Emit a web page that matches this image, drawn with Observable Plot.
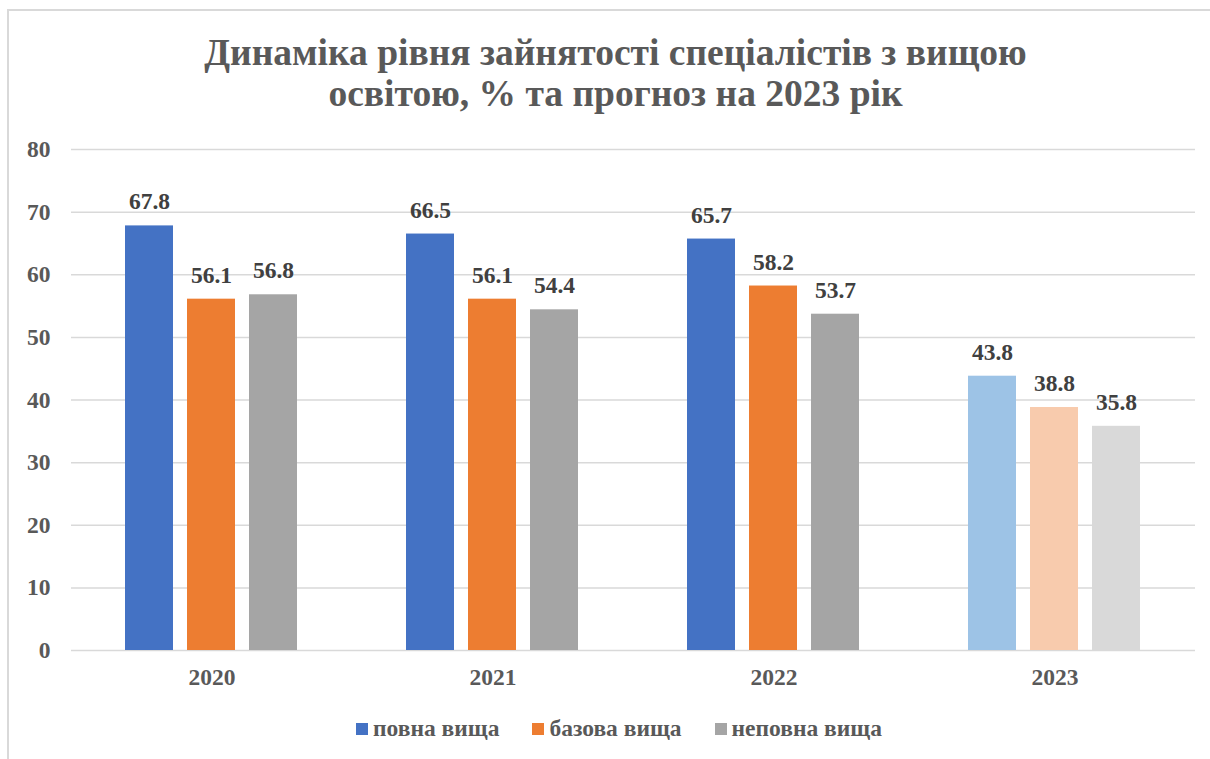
<!DOCTYPE html>
<html>
<head>
<meta charset="utf-8">
<script src="https://cdn.jsdelivr.net/npm/d3@7"></script>
<script src="https://cdn.jsdelivr.net/npm/@observablehq/plot@0.6"></script>
</head>
<body style="margin:0;padding:0;background:#fff;width:1210px;height:759px;position:relative;overflow:hidden;font-family:'Liberation Serif';">
<div style="position:absolute;left:7px;top:9px;width:1220px;height:770px;border-left:2px solid #d9d9d9;border-top:2px solid #d9d9d9;"></div>
<div id="title" style="position:absolute;left:0;width:1231px;top:32px;text-align:center;font-family:'Liberation Serif';font-size:37.5px;font-weight:bold;color:#595959;line-height:41px;">Динаміка рівня зайнятості спеціалістів з вищою<br>освітою, % та прогноз на 2023 рік</div>
<div id="chart" style="position:absolute;left:0;top:130px;"></div>
<div id="legend" style="position:absolute;left:0;width:1238px;top:715px;display:flex;justify-content:center;font-family:'Liberation Serif';font-size:23.5px;font-weight:bold;color:#595959;"></div>
<script>
const years = ["2020", "2021", "2022", "2023"];
const seriesNames = ["повна вища", "базова вища", "неповна вища"];
const fullHigher = [67.8, 66.5, 65.7, 43.8];
const basicHigher = [56.1, 56.1, 58.2, 38.8];
const incompleteHigher = [56.8, 54.4, 53.7, 35.8];
const forecastYear = "2023";
const yTicks = [0, 10, 20, 30, 40, 50, 60, 70, 80];

const seriesValues = [fullHigher, basicHigher, incompleteHigher];
const baseColors = ["#4472C4", "#ED7D31", "#A5A5A5"];
const lightColors = ["#9DC3E6", "#F8CBAD", "#D9D9D9"];

const data = years.flatMap((year, i) =>
  seriesNames.map((s, j) => ({
    year, series: s, value: seriesValues[j][i],
    key: s + (year === forecastYear ? " (прогноз)" : "")
  }))
);
const colorDomain = [...seriesNames, ...seriesNames.map(s => s + " (прогноз)")];
const colorRange = [...baseColors, ...lightColors];

const plot = Plot.plot({
  width: 1210,
  height: 565,
  marginLeft: 70,
  marginRight: 15,
  marginTop: 19,
  marginBottom: 45,
  style: { fontFamily: "Liberation Serif", fontSize: "23.5px", fontWeight: "bold", color: "#595959", background: "transparent" },
  facet: { data, x: "year" },
  fx: { domain: years, padding: 0, label: null, axis: "bottom", tickSize: 0, tickPadding: 18 },
  x: { domain: seriesNames, paddingInner: 0.22, paddingOuter: 0.858, axis: null },
  y: { domain: [0, 80], ticks: yTicks, label: null, tickSize: 0, tickPadding: 21, tickFormat: d => String(d) },
  color: { domain: colorDomain, range: colorRange },
  marks: [
    Plot.ruleY(yTicks, { stroke: "#d9d9d9", strokeWidth: 1.5 }),
    Plot.barY(data, { x: "series", y: "value", fill: "key" }),
    Plot.text(data, { x: "series", y: "value", text: d => d.value.toFixed(1), dy: -24, fill: "#404040", fontSize: 23.5, fontWeight: "bold", fontFamily: "Liberation Serif" })
  ]
});
plot.querySelectorAll("text").forEach(t => t.setAttribute("font-family", "Liberation Serif"));
document.getElementById("chart").appendChild(plot);

const legend = document.getElementById("legend");
seriesNames.forEach((s, j) => {
  const item = document.createElement("div");
  item.style.cssText = "display:flex;align-items:center;margin:0 16.5px;";
  const sw = document.createElement("div");
  sw.style.cssText = "width:12px;height:12px;margin-right:5px;background:" + baseColors[j] + ";";
  const label = document.createElement("span");
  label.textContent = s;
  item.appendChild(sw);
  item.appendChild(label);
  legend.appendChild(item);
});
</script>
</body>
</html>
